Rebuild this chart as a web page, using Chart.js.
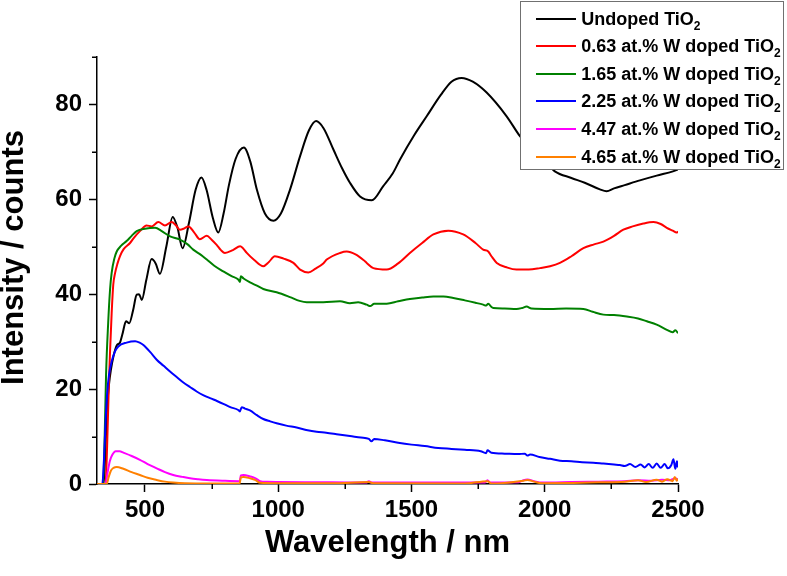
<!DOCTYPE html>
<html><head><meta charset="utf-8">
<script src="https://cdn.jsdelivr.net/npm/chart.js@4.4.1/dist/chart.umd.min.js"></script>
<style>
html,body{margin:0;padding:0;background:#fff;}
#wrap{position:relative;width:787px;height:576px;overflow:hidden;background:#fff;}
#c{position:absolute;left:0;top:0;}
#legend{position:absolute;left:520px;top:1px;width:264px;height:169px;box-sizing:border-box;border:1.5px solid #707070;background:#fff;font-family:"Liberation Sans",Arial,sans-serif;font-weight:bold;font-size:18px;color:#000;}
.row{position:absolute;left:0;height:18px;display:flex;align-items:center;white-space:nowrap;}
.sw{width:40px;height:2px;margin-left:14.5px;}
.lbl{margin-left:5.7px;line-height:18px;}
.lbl sub{font-size:12px;vertical-align:-5px;line-height:0;}
</style></head>
<body>
<div id="wrap">
<canvas id="c" width="787" height="576"></canvas>
<div id="legend"></div>
</div>
<script>
// ---------- data ----------
const seriesNames = ['Undoped', '0.63 at.% W doped', '1.65 at.% W doped', '2.25 at.% W doped', '4.47 at.% W doped', '4.65 at.% W doped'];
const seriesColors = ['#000000', '#ff0000', '#008000', '#0000ff', '#ff00ff', '#ff8000'];

const undopedWl = [320,345,352,358,365,372,382,395,405,415,429,441,455,469,478,488,505,525,540,556,580,604,622,641,665,690,712,731,755,775,795,815,840,871,895,920,950,982,1010,1044,1082,1115,1142,1170,1207,1240,1269,1307,1351,1394,1430,1457,1510,1557,1610,1650,1688,1730,1782,1857,1907,1950,2000,2038,2100,2150,2207,2232,2260,2300,2357,2420,2481,2500];
const undopedVal = [0,0,8,16,21,24,27,29.3,29.7,31.5,34.3,33.9,36.5,39.9,40,38.8,43,47.4,46.5,44.3,50,56.3,54,49.7,55,62,64.6,62,56,53,57,63,68.5,70.9,68,62,57,55.5,57,62,69.1,74.5,76.5,75,70.5,66.5,63.5,60.6,59.8,62.8,65.5,68.4,73.5,77.5,82,84.8,85.6,84.8,82.5,77.5,73.3,70.5,68,65.9,64.5,63.5,62.1,61.7,62.3,63,64,65,65.9,66.3];

const w063Wl = [320,352,358,364,369,375,381,388,397,406,420,444,460,481,506,525,550,575,600,615,631,645,663,685,706,732,750,769,785,800,830,857,866,882,910,944,965,987,1020,1057,1082,1113,1140,1169,1182,1232,1257,1290,1320,1332,1357,1407,1450,1494,1540,1582,1638,1694,1740,1769,1788,1800,1820,1860,1894,1940,1982,2020,2057,2100,2145,2185,2220,2260,2295,2330,2370,2408,2435,2458,2480,2495,2500];
const w063Val = [0,0,8,20,28,36,42,44.5,46.5,48,49.5,50.8,52,53.3,54.5,54.3,55.2,54.5,55.2,54.6,53.6,53.8,54.3,53,51.6,52.3,51.5,50.4,49.3,48.7,49.3,50.1,49.8,48.7,47.2,45.9,46.8,48,47.5,46.6,45.2,44.6,45.4,46.5,47.3,48.7,49,48.4,47.2,46.6,45.5,45.2,46.5,48.7,50.8,52.6,53.4,52.6,50.8,49.4,49,48,46.6,45.6,45.2,45.2,45.5,45.9,46.6,48,49.7,50.5,51.1,52.3,53.6,54.3,54.9,55.2,54.8,54,53.4,53,53.2];

const w165Wl = [320,343,348,354,362,369,375,385,394,410,431,450,469,500,538,563,594,631,660,681,710,732,760,794,825,850,856,860,870,894,920,944,994,1044,1080,1107,1169,1232,1269,1300,1332,1345,1360,1407,1450,1494,1540,1582,1620,1657,1700,1740,1769,1780,1788,1800,1807,1850,1894,1915,1932,1950,2020,2080,2145,2180,2220,2260,2308,2350,2383,2420,2458,2480,2490,2500];
const w165Val = [0,0,8,23,34,41,44.5,47.5,49,50.2,51.2,52.3,53.3,53.8,54,53.3,52.2,51.5,50.5,49.4,48.3,47.3,46,44.8,43.8,43.1,42.6,43.8,43.3,42.5,41.8,41.1,40.4,39.4,38.6,38.3,38.3,38.5,38.1,38.3,37.8,37.5,38,38,38.5,39,39.3,39.5,39.5,39.2,38.7,38.2,37.8,37.6,38,37.3,37.1,37,36.9,37.1,37.4,37,36.9,37,36.9,36.3,35.7,35.6,35.3,34.9,34.3,33.6,32.5,32,32.4,31.8];

const w225Wl = [320,340,346,352,358,365,375,388,400,431,463,480,494,520,544,570,594,620,644,670,694,720,744,770,794,820,850,856,863,875,894,920,944,970,994,1030,1069,1105,1144,1180,1219,1269,1310,1340,1350,1360,1400,1450,1500,1550,1600,1650,1700,1760,1780,1785,1800,1850,1900,1925,1935,1945,1980,2020,2057,2100,2140,2182,2220,2260,2282,2300,2320,2340,2360,2375,2390,2405,2420,2435,2450,2462,2475,2483,2490,2496,2500];
const w225Val = [0,0,5,13,19,23,25.8,28,29,29.8,30.1,29.8,29.3,27.8,26.2,24.9,23.7,22.5,21.4,20.4,19.5,18.7,18.1,17.5,16.9,16.2,15.6,15.3,16.2,15.9,15.5,14.5,13.7,13.2,12.8,12.3,11.9,11.4,11,10.8,10.5,10.1,9.8,9.5,9.0,9.5,9.2,8.7,8.3,8.0,7.6,7.4,7.2,6.9,6.5,7.1,6.6,6.4,6.3,6.4,6.0,6.2,5.7,5.3,4.9,4.8,4.6,4.5,4.3,4.1,4.0,3.8,4.2,3.6,4.1,3.5,4.2,3.4,4.3,3.4,4.2,3.3,4.0,5.2,3.2,4.8,3.5];

const w447Wl = [320,352,360,368,378,390,405,419,450,481,510,544,575,606,640,669,700,732,790,855,860,870,894,915,932,960,1000,1100,1200,1330,1340,1350,1500,1700,1775,1785,1795,1900,1920,1935,1960,1990,2100,2200,2300,2350,2400,2440,2470,2490,2500];
const w447Val = [0,0,2.5,4.8,6.2,6.9,6.9,6.6,5.9,5.1,4.2,3.3,2.5,1.9,1.5,1.2,1.0,0.85,0.7,0.6,1.8,1.9,1.6,1.2,0.6,0.45,0.4,0.35,0.35,0.3,0.6,0.3,0.3,0.3,0.3,0.8,0.3,0.35,0.8,0.95,0.6,0.3,0.4,0.5,0.6,0.8,0.7,0.9,0.8,1.2,0.9];

const w465Wl = [320,356,364,372,382,394,419,450,481,510,544,575,606,650,750,855,860,870,894,915,932,1000,1200,1340,1360,1700,1785,1800,1920,1935,1960,1990,2100,2200,2300,2350,2380,2420,2440,2460,2480,2488,2495,2500];
const w465Val = [0,0,1.5,2.8,3.4,3.6,3.2,2.5,1.9,1.3,0.85,0.5,0.3,0.15,0.1,0.1,1.4,1.5,1.2,0.8,0.25,0.15,0.15,0.4,0.15,0.1,0.6,0.1,0.7,0.85,0.5,0.15,0.2,0.35,0.5,0.8,0.4,0.9,0.5,1.0,0.6,1.5,0.7,1.1];

const xMajorTicks = [500, 1000, 1500, 2000, 2500];
const xMinorTicks = [750, 1250, 1750, 2250];
const yMajorTicks = [0, 20, 40, 60, 80];
const yMinorTicks = [10, 30, 50, 70, 90];
const xTitle = 'Wavelength / nm';
const yTitle = 'Intensity / counts';

// ---------- build ----------
const wlSets = [undopedWl, w063Wl, w165Wl, w225Wl, w447Wl, w465Wl];
const valSets = [undopedVal, w063Val, w165Val, w225Val, w447Val, w465Val];
const FONT = '"Liberation Sans", Arial, sans-serif';

const datasets = seriesNames.map((n, i) => ({
  label: n + ' TiO\u2082',
  data: wlSets[i].map((w, k) => ({x: w, y: valSets[i][k]})),
  borderColor: seriesColors[i],
  backgroundColor: seriesColors[i],
  borderWidth: 2,
  pointRadius: 0,
  fill: false,
  cubicInterpolationMode: 'monotone',
  order: seriesNames.length - i
}));

const extras = {
  id: 'extras',
  afterDraw(chart) {
    const {ctx, scales: {x, y}} = chart;
    ctx.save();
    ctx.strokeStyle = '#000';
    ctx.lineWidth = 1.5;
    xMinorTicks.forEach(v => {
      const px = Math.round(x.getPixelForValue(v)) + 0.25;
      ctx.beginPath(); ctx.moveTo(px, y.bottom); ctx.lineTo(px, y.bottom + 5); ctx.stroke();
    });
    yMinorTicks.forEach(v => {
      const py = Math.round(y.getPixelForValue(v)) + 0.25;
      ctx.beginPath(); ctx.moveTo(x.left, py); ctx.lineTo(x.left - 5, py); ctx.stroke();
    });
    ctx.translate(14.5, 257.5);
    ctx.rotate(-Math.PI / 2);
    ctx.font = 'bold 31px ' + FONT;
    ctx.fillStyle = '#000';
    ctx.textAlign = 'center';
    ctx.textBaseline = 'middle';
    ctx.fillText(yTitle, 0, 0);
    ctx.restore();
  }
};

const plainTick = v => String(v);

new Chart(document.getElementById('c'), {
  type: 'line',
  data: {datasets},
  plugins: [extras],
  options: {
    responsive: false,
    animation: false,
    devicePixelRatio: 1,
    layout: {padding: {top: 57, right: 109, left: 0, bottom: 0}},
    plugins: {legend: {display: false}, tooltip: {enabled: false}},
    scales: {
      x: {
        type: 'linear', min: 320, max: 2500,
        afterBuildTicks: s => { s.ticks = xMajorTicks.map(v => ({value: v})); },
        afterFit: s => { s.height = 92; },
        grid: {drawOnChartArea: false, drawTicks: true, tickLength: 8, tickWidth: 1.5, tickColor: '#000'},
        border: {display: true, color: '#000', width: 1.5},
        ticks: {font: {family: FONT, size: 24, weight: 'bold'}, color: '#000', padding: 4, maxRotation: 0, autoSkip: false, callback: plainTick},
        title: {display: true, text: xTitle, color: '#000', font: {family: FONT, size: 31, weight: 'bold', lineHeight: 1}, padding: {top: 0, bottom: 17}}
      },
      y: {
        type: 'linear', min: 0, max: 90,
        afterBuildTicks: s => { s.ticks = yMajorTicks.map(v => ({value: v})); },
        afterFit: s => { s.width = 97; },
        grid: {drawOnChartArea: false, drawTicks: true, tickLength: 8, tickWidth: 1.5, tickColor: '#000'},
        border: {display: true, color: '#000', width: 1.5},
        ticks: {font: {family: FONT, size: 24, weight: 'bold'}, color: '#000', padding: 7, autoSkip: false, callback: plainTick},
        title: {display: false}
      }
    }
  }
});

// legend (HTML, so TiO2 can carry a real subscript)
const legend = document.getElementById('legend');
seriesNames.forEach((n, i) => {
  const row = document.createElement('div');
  row.className = 'row';
  row.style.top = (7.5 + 27.6 * i) + 'px';
  const sw = document.createElement('div');
  sw.className = 'sw';
  sw.style.background = seriesColors[i];
  const lbl = document.createElement('span');
  lbl.className = 'lbl';
  lbl.innerHTML = n + ' TiO<sub>2</sub>';
  row.appendChild(sw); row.appendChild(lbl);
  legend.appendChild(row);
});
</script>
</body></html>
